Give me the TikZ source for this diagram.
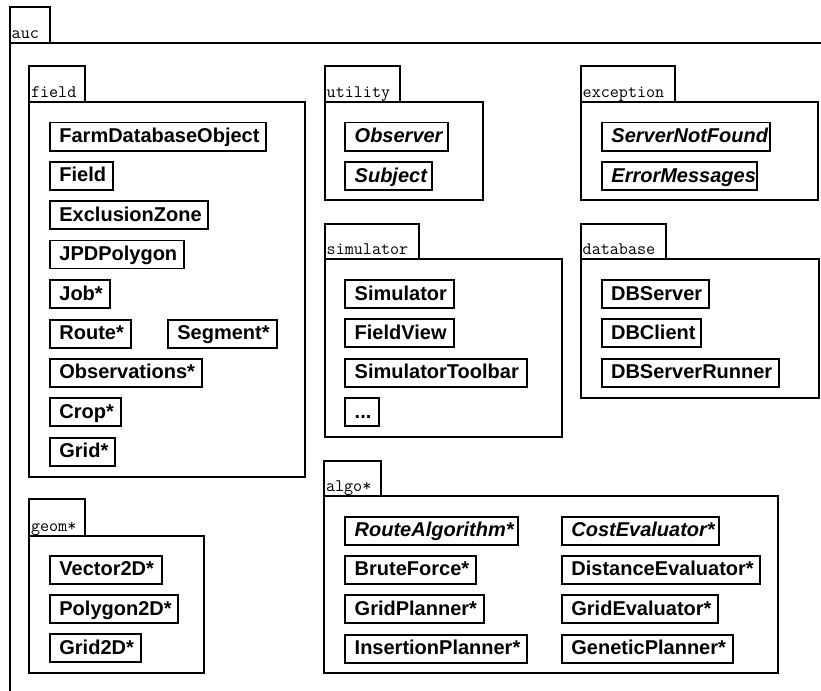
\documentclass[tikz,border=0pt]{standalone}
\usepackage{fontspec}
\setmainfont{Liberation Sans}
\tikzset{
  frame/.style={draw=black, line width=1.8pt},
  cls/.style={draw=black, line width=1.8pt, anchor=north west, inner xsep=9.5pt, inner ysep=0pt,
    minimum height=28pt, align=left, text height=16pt, text depth=3.6pt,
    font=\fontsize{20}{24}\selectfont\bfseries},
  abstract/.style={font=\fontsize{20}{24}\selectfont\bfseries\itshape},
  pkglabel/.style={anchor=base west, inner sep=0pt, font=\fontsize{17.6}{20}\selectfont\ttfamily}
}
% class box: [extra style]{name}{left}{top}{right}{label}
\newcommand{\classbox}[6][]{%
  \pgfmathsetmacro{\boxw}{#5-#3}%
  \pgfmathsetmacro{\txtw}{#5-#3-19}%
  \node[cls,#1,minimum width=\boxw pt,text width=\txtw pt] (#2) at (#3,#4) {#6};}
% package: {name}{left}{tab top}{tab right}{body top}{body right}{body bottom}
\newcommand{\pkgframe}[7]{%
  \draw[frame] (#2,#3) rectangle (#4,#5);
  \draw[frame] (#2,#5) rectangle (#6,#7);
  \node[pkglabel] (pkg-#1) at (#2+1.5,#5-4.5) {#1};}
\begin{document}
\begin{tikzpicture}[x=1pt,y=-1pt]
\useasboundingbox (0,0) rectangle (821,690);
\begin{scope}
\clip (0,0) rectangle (821,690);
% outer package auc, open to the right and bottom
\draw[frame] (10,7) rectangle (49.7,42.7);
\draw[frame] (10,700) -- (10,42.7) -- (830,42.7);
\node[pkglabel] (pkg-auc) at (11.5,38.2) {auc};

% field
\pkgframe{field}{29.3}{66.3}{85.3}{101.7}{305.3}{476.7}
\classbox{fdo}{49}{121.7}{265}{FarmDatabaseObject}
\classbox{fld}{49}{160.7}{112}{Field}
\classbox{exz}{49}{200.3}{207.3}{ExclusionZone}
\classbox{jpd}{49}{239.5}{182.7}{JPDPolygon}
\classbox{job}{49}{279}{108.7}{Job*}
\classbox{rte}{49}{318.7}{129.7}{Route*}
\classbox{seg}{167}{318.7}{276}{Segment*}
\classbox{obs}{49}{357.7}{200.7}{Observations*}
\classbox{crp}{49}{397}{119.7}{Crop*}
\classbox{grd}{49}{436.7}{114}{Grid*}

% utility
\pkgframe{utility}{325}{65.7}{400}{102}{482.7}{200}
\classbox[abstract]{obsv}{344.3}{121.7}{446.7}{Observer}
\classbox[abstract]{subj}{344.3}{161}{431.3}{Subject}

% exception
\pkgframe{exception}{581}{65.7}{675}{102}{818.3}{200}
\classbox[abstract]{snf}{601}{121.7}{769}{ServerNotFound}
\classbox[abstract]{errm}{601}{161}{756}{ErrorMessages}

% simulator
\pkgframe{simulator}{325}{223.7}{419}{259.3}{562}{436.7}
\classbox{sim}{344.3}{279}{453}{Simulator}
\classbox{fview}{344.3}{318.3}{453}{FieldView}
\classbox{stb}{344.3}{357.7}{525.7}{SimulatorToolbar}
\classbox{more}{344.3}{397}{377.7}{...}

% database
\pkgframe{database}{581}{224}{665.7}{259.3}{819.3}{397.7}
\classbox{dbs}{600.7}{279.3}{707.7}{DBServer}
\classbox{dbc}{600.7}{318.3}{700}{DBClient}
\classbox{dbr}{600.7}{357.7}{777.7}{DBServerRunner}

% geom*
\pkgframe{geom*}{29.3}{499.3}{85.3}{535.7}{204}{673.3}
\classbox{vec}{49}{554.7}{160.7}{Vector2D*}
\classbox{poly}{49}{594}{177.3}{Polygon2D*}
\classbox{g2d}{49}{633.3}{139.7}{Grid2D*}

% algo*
\pkgframe{algo*}{324.3}{460.7}{380.7}{496}{778.3}{673.3}
\classbox[abstract]{ralg}{344.3}{515.7}{516.7}{RouteAlgorithm*}
\classbox{bf}{344.3}{554.7}{475}{BruteForce*}
\classbox{gp}{344.3}{594.3}{483}{GridPlanner*}
\classbox{ip}{344.3}{633.7}{525.7}{InsertionPlanner*}
\classbox[abstract]{ce}{561}{515.7}{717.7}{CostEvaluator*}
\classbox{de}{561}{554.7}{759.3}{DistanceEvaluator*}
\classbox{ge}{561}{594.3}{717.3}{GridEvaluator*}
\classbox{gen}{561}{633.7}{731.7}{GeneticPlanner*}
\end{scope}
\end{tikzpicture}
\end{document}
